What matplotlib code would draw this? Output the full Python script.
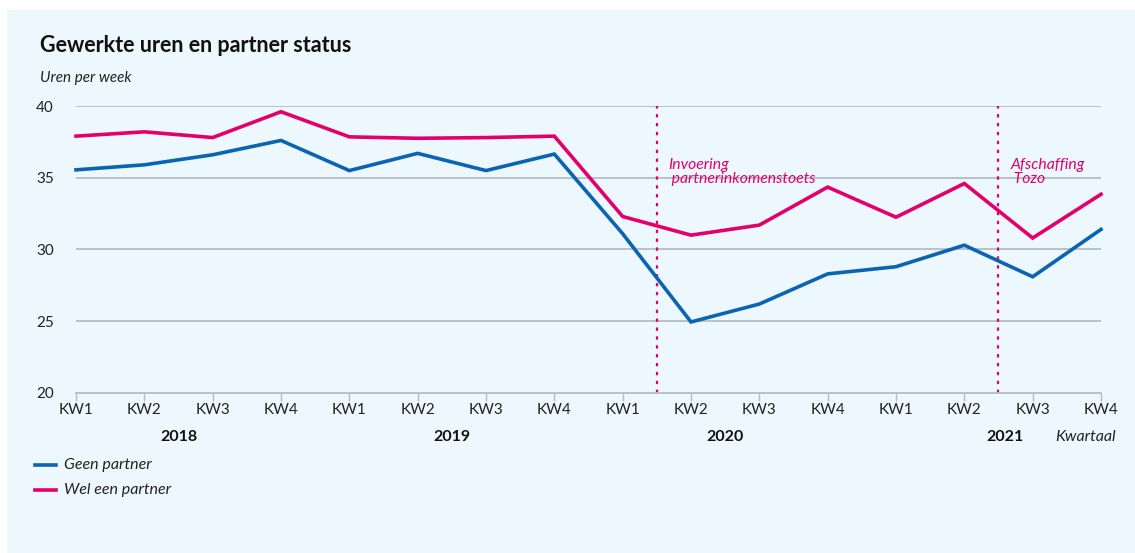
import matplotlib
matplotlib.use("Agg")
import matplotlib.pyplot as plt
from matplotlib.patches import Rectangle

quarters = ["KW1", "KW2", "KW3", "KW4"] * 4
years = ["2018", "2019", "2020", "2021"]
geen_partner = [35.55, 35.9, 36.6, 37.6, 35.5, 36.7, 35.5, 36.65,
                31.1, 24.95, 26.2, 28.3, 28.8, 30.3, 28.1, 31.4]
wel_partner = [37.9, 38.2, 37.8, 39.6, 37.85, 37.75, 37.8, 37.9,
               32.3, 31.0, 31.7, 34.35, 32.25, 34.6, 30.8, 33.85]
events = [8.5, 13.5]
event_labels = ["Invoering\n partnerinkomenstoets", "Afschaffing\n Tozo"]

BLUE = "#0a64b2"
PINK = "#e3006d"
BG = "#edf7fe"
FONT = "Lato"

W, H = 1135, 553
fig = plt.figure(figsize=(W / 100, H / 100), dpi=100)
fig.patch.set_facecolor("white")
fig.patches.append(Rectangle((7 / W, 0), 1 - 7 / W, 1 - 10 / H, transform=fig.transFigure,
                             facecolor=BG, edgecolor="none", zorder=-10))

ax = fig.add_axes([76 / W, 1 - 393 / H, (1101 - 76) / W, (393 - 106) / H])
ax.set_facecolor("none")
x = list(range(len(quarters)))
ax.set_xlim(0, 15)
ax.set_ylim(20, 40)

for v in [25, 30, 35, 40]:
    ax.axhline(v, color="#b4bcc4", lw=1.3, zorder=1)

ax.plot(x, geen_partner, color=BLUE, lw=2.6, zorder=3, clip_on=False, solid_joinstyle="miter")
ax.plot(x, wel_partner, color=PINK, lw=2.6, zorder=3, clip_on=False, solid_joinstyle="miter")

for ev, lab in zip(events, event_labels):
    ax.plot([ev, ev], [20, 40], color=PINK, lw=1.6, ls=(0, (1.5, 2.5)), zorder=2, clip_on=False)
    ax.text(ev + 0.17, 36.35, lab, color=PINK, fontsize=11.3, style="italic",
            family=FONT, va="top", ha="left", linespacing=1.0)

for s in ["top", "right", "left"]:
    ax.spines[s].set_visible(False)
ax.spines["bottom"].set_color("#b4bcc4")
ax.spines["bottom"].set_linewidth(1.3)

ax.set_xticks(x)
ax.set_xticklabels(quarters, family=FONT, fontsize=11, color="#222222")
ax.tick_params(axis="x", length=6, width=1, color="#b4bcc4", pad=1)
ax.set_yticks([20, 25, 30, 35, 40])
ax.set_yticklabels(["20", "25", "30", "35", "40"], family=FONT, fontsize=11, color="#222222")
ax.tick_params(axis="y", length=0, pad=16)

year_pos = [1.5, 5.5, 9.5, 13.6]
for yp, yr in zip(year_pos, years):
    fig.text((76 + yp * (1025 / 15)) / W, 1 - 437 / H, yr, ha="center", va="center",
             family=FONT, fontweight="bold", fontsize=11.5, color="#111111")
fig.text(1116 / W, 1 - 437 / H, "Kwartaal", ha="right", va="center", family=FONT,
         style="italic", fontsize=11.5, color="#222222")

fig.text(40 / W, 1 - 45 / H, "Gewerkte uren en partner status", ha="left", va="center",
         family=FONT, fontweight="bold", fontsize=15.5, color="#111111")
fig.text(40 / W, 1 - 78 / H, "Uren per week", ha="left", va="center", family=FONT,
         style="italic", fontsize=11, color="#222222")

for ypix, col, lab in [(465, BLUE, "Geen partner"), (490, PINK, "Wel een partner")]:
    yy = 1 - ypix / H
    fig.add_artist(plt.Line2D([35 / W, 56 / W], [yy, yy], color=col, lw=2.6,
                              transform=fig.transFigure))
    fig.text(64 / W, yy, lab, ha="left", va="center", family=FONT, style="italic",
             fontsize=11.5, color="#222222")

fig.savefig("out.png", dpi=100, facecolor="white")
